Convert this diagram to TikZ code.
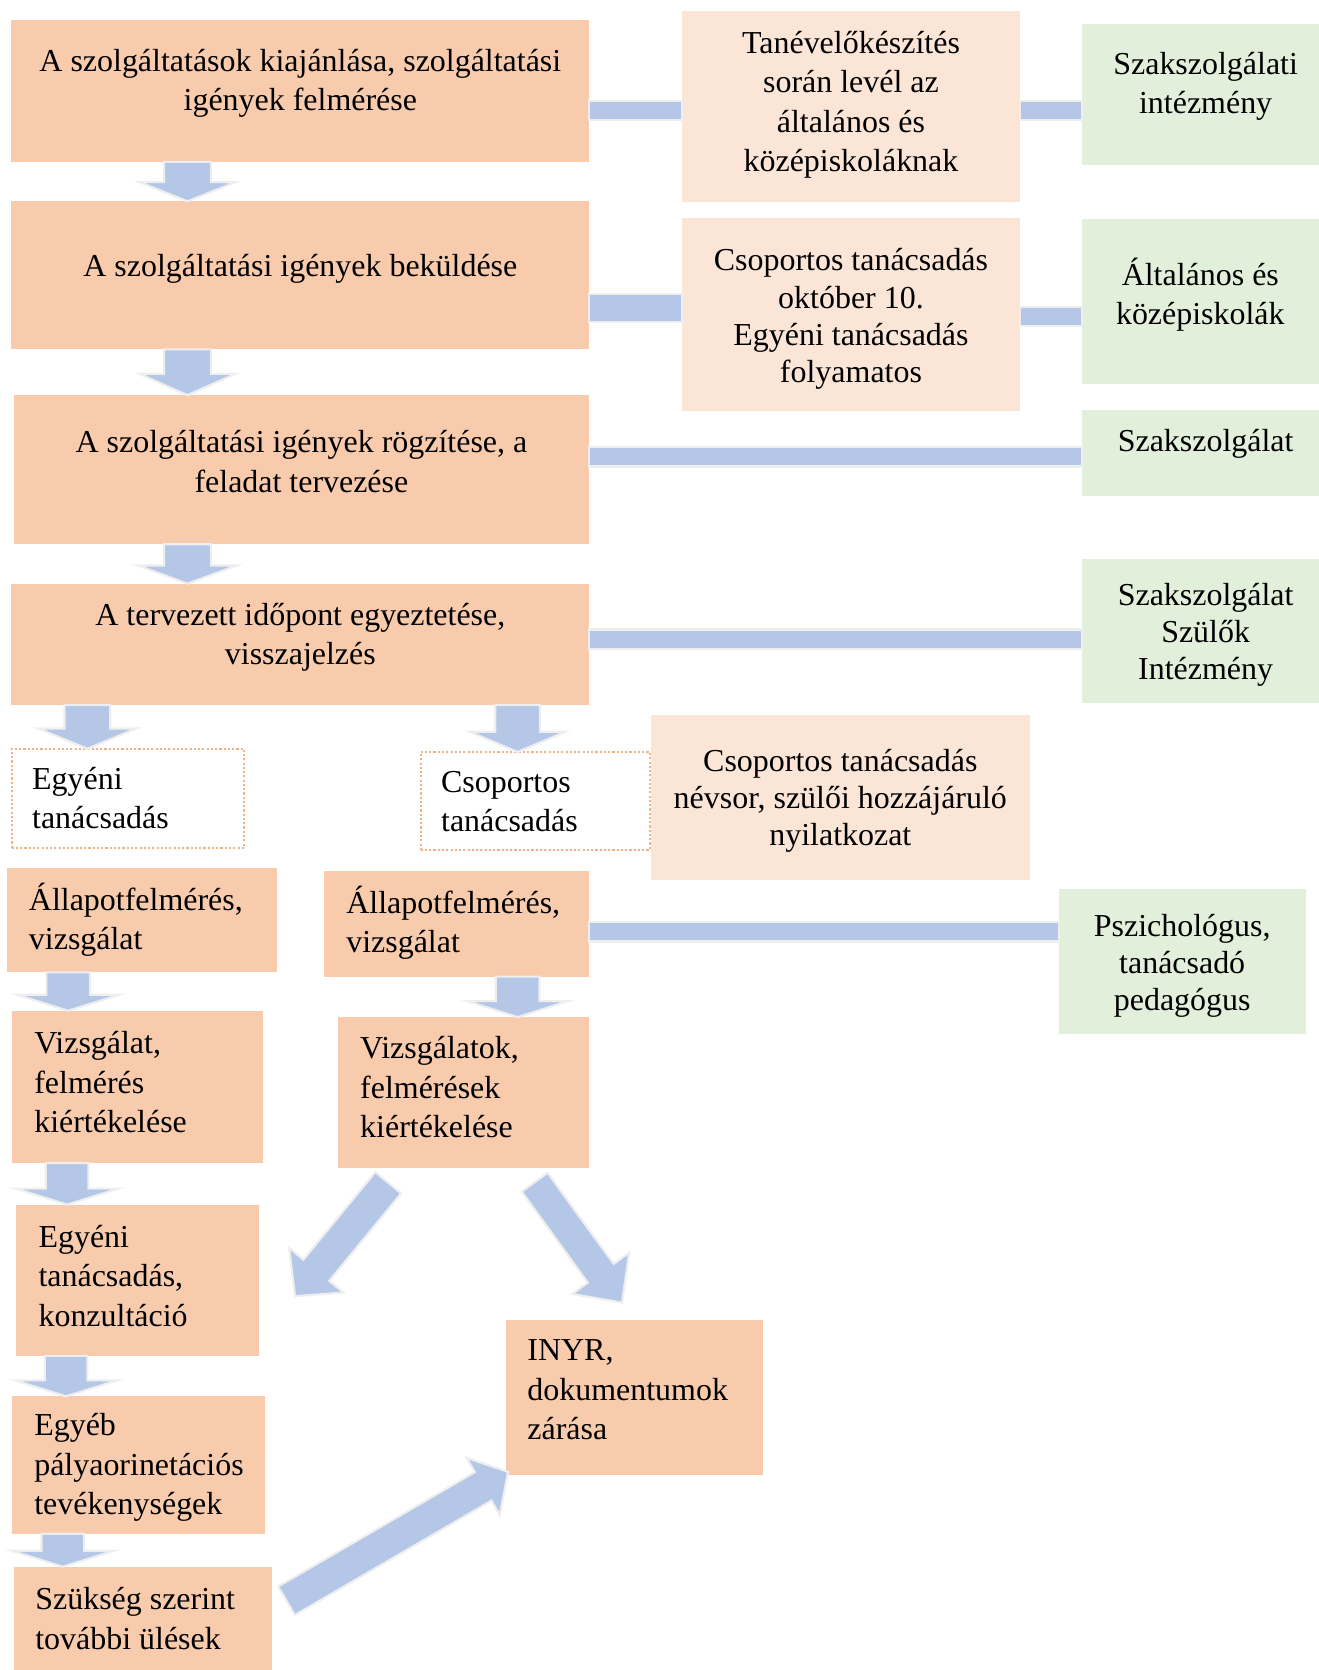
\documentclass[tikz,border=0pt]{standalone}
\usepackage{fontspec}
\setmainfont{Liberation Serif}
\usetikzlibrary{calc}
\definecolor{cOrange}{HTML}{F8CBAD}
\definecolor{cPeach}{HTML}{FBE5D6}
\definecolor{cGreen}{HTML}{E2EFDA}
\definecolor{cBlue}{HTML}{B4C7E7}
\definecolor{cEdge}{HTML}{EEEEEE}
\definecolor{cDot}{HTML}{F4B183}
\tikzset{
  box/.style={rectangle, inner sep=0pt, outer sep=0pt, anchor=north west},
  obox/.style={box, fill=cOrange},
  pbox/.style={box, fill=cPeach},
  gbox/.style={box, fill=cGreen},
  dbox/.style={box, fill=white, draw=cDot, line width=2pt, dash pattern=on 2pt off 2pt},
  ctext/.style={inner sep=0pt, align=center, yshift=-3pt, font=\fontsize{30}{37}\selectfont},
  ctextb/.style={inner sep=0pt, align=center, yshift=-3pt, font=\fontsize{30}{35}\selectfont},
  ltext/.style={inner sep=0pt, align=left, anchor=west, font=\fontsize{30}{37}\selectfont},
  arrowst/.style={fill=cBlue, draw=cEdge, line width=2pt, line join=miter},
  conn/.style={fill=cBlue, draw=cEdge, line width=2pt},
}
\newcommand\blockarrow[5]{%
  \path (#1) coordinate (baS) (#2) coordinate (baE);
  \path ($(baE)!#5!(baS)$) coordinate (baH);
  \filldraw[arrowst] ($(baS)!#3!90:(baE)$) -- ($(baH)!#3!-90:(baS)$) -- ($(baH)!#4!-90:(baS)$) -- (baE)
    -- ($(baH)!#4!90:(baS)$) -- ($(baH)!#3!90:(baS)$) -- ($(baS)!#3!-90:(baE)$) -- cycle;
}
\newcommand\hconn[4]{%
  \path (#1.east |- 0,#3) coordinate (hcA) (#2.west |- 0,#3) coordinate (hcB);
  \filldraw[conn] ($(hcA)+(0,-#4)$) rectangle ($(hcB)+(0,#4)$);
}
\begin{document}
\begin{tikzpicture}[x=1pt,y=-1pt]
\useasboundingbox (0,0) rectangle (1238,1568);
% main column
\node[obox, minimum width=543pt, minimum height=133pt] (A1) at (10,19) {};
\node[obox, minimum width=543pt, minimum height=139pt] (A2) at (10,189) {};
\node[obox, minimum width=540pt, minimum height=140pt] (A3) at (13,371) {};
\node[obox, minimum width=543pt, minimum height=114pt] (A4) at (10,548) {};
% middle column
\node[pbox, minimum width=318pt, minimum height=180pt] (B1) at (640,10) {};
\node[pbox, minimum width=318pt, minimum height=181pt] (B2) at (640,205) {};
\node[pbox, minimum width=356pt, minimum height=155pt] (B3) at (611,671) {};
% right column
\node[gbox, minimum width=222pt, minimum height=132pt] (G1) at (1016,23) {};
\node[gbox, minimum width=222pt, minimum height=155pt] (G2) at (1016,206) {};
\node[gbox, minimum width=222pt, minimum height=81pt] (G3) at (1016,385) {};
\node[gbox, minimum width=222pt, minimum height=135pt] (G4) at (1016,525) {};
\node[gbox, minimum width=232pt, minimum height=136pt] (G5) at (994,835) {};
% dotted
\node[dbox, minimum width=218pt, minimum height=93pt] (D1) at (11,703) {};
\node[dbox, minimum width=215pt, minimum height=92pt] (D2) at (395,706) {};
% lower left column
\node[obox, minimum width=253pt, minimum height=98pt] (L1) at (7,815) {};
\node[obox, minimum width=236pt, minimum height=143pt] (L2) at (11,949) {};
\node[obox, minimum width=228pt, minimum height=142pt] (L3) at (15,1131) {};
\node[obox, minimum width=238pt, minimum height=129pt] (L4) at (11,1311) {};
\node[obox, minimum width=242pt, minimum height=97pt] (L5) at (13,1471) {};
% lower right column
\node[obox, minimum width=249pt, minimum height=99pt] (R1) at (304,818) {};
\node[obox, minimum width=236pt, minimum height=142pt] (R2) at (317,955) {};
\node[obox, minimum width=241pt, minimum height=146pt] (IN) at (475,1239) {};

% texts
\node[ctext] (A1t) at (282,75.5) {A szolgáltatások kiajánlása, szolgáltatási\\igények felmérése};
\node[ctext] (A2t) at (282,249) {A szolgáltatási igények beküldése};
\node[ctext] (A3t) at (283,430.5) {A szolgáltatási igények rögzítése, a\\feladat tervezése};
\node[ctext] (A4t) at (282,595.5) {A tervezett időpont egyeztetése,\\visszajelzés};
\node[ctext] (B1t) at (799,95.5) {Tanévelőkészítés\\során levél az\\általános és\\középiskoláknak};
\node[ctextb] (B2t) at (799,296.5) {Csoportos tanácsadás\\október 10.\\Egyéni tanácsadás\\folyamatos};
\node[ctextb] (B3t) at (789,749) {Csoportos tanácsadás\\névsor, szülői hozzájáruló\\nyilatkozat};
\node[ctext] (G1t) at (1132,78) {Szakszolgálati\\intézmény};
\node[ctext] (G2t) at (1127,273.5) {Általános és\\középiskolák};
\node[ctext] (G3t) at (1132,414) {Szakszolgálat};
\node[ctextb] (G4t) at (1132,593) {Szakszolgálat\\Szülők\\Intézmény};
\node[ctextb] (G5t) at (1110,904) {Pszichológus,\\tanácsadó\\pedagógus};
\node[ltext] (D1t) at (30,749.5) {Egyéni\\tanácsadás};
\node[ltext] (D2t) at (414,752.5) {Csoportos\\tanácsadás};
\node[ltext] (L1t) at (27,863.5) {Állapotfelmérés,\\vizsgálat};
\node[ltext] (L2t) at (32,1016) {Vizsgálat,\\felmérés\\kiértékelése};
\node[ltext] (L3t) at (36,1198) {Egyéni\\tanácsadás,\\konzultáció};
\node[ltext] (L4t) at (32,1378) {Egyéb\\pályaorinetációs\\tevékenységek};
\node[ltext] (L5t) at (33,1519.5) {Szükség szerint\\további ülések};
\node[ltext] (R1t) at (325,866.5) {Állapotfelmérés,\\vizsgálat};
\node[ltext] (R2t) at (338,1021) {Vizsgálatok,\\felmérések\\kiértékelése};
\node[ltext] (INt) at (495,1305) {INYR,\\dokumentumok\\zárása};

% horizontal connectors
\hconn{A1}{B1}{104}{9}
\hconn{B1}{G1}{104}{9}
\hconn{A2}{B2}{289}{13}
\hconn{B2}{G2}{297}{9}
\hconn{A3}{G3}{429}{9}
\hconn{A4}{G4}{600}{9}
\hconn{R1}{G5}{875}{9}

% down arrows
\blockarrow{A1.south -| 176,0}{A2.north -| 176,0}{22pt}{45pt}{18pt}
\blockarrow{A2.south -| 176,0}{A3.north -| 176,0}{22pt}{45pt}{20pt}
\blockarrow{A3.south -| 176,0}{A4.north -| 176,0}{22pt}{46pt}{17pt}
\blockarrow{A4.south -| 82,0}{D1.north -| 82,0}{21.5pt}{46pt}{19pt}
\blockarrow{A4.south -| 486,0}{D2.north -| 486,0}{21pt}{45pt}{19pt}
\blockarrow{L1.south -| 64,0}{L2.north -| 64,0}{20.5pt}{48pt}{15pt}
\blockarrow{R1.south -| 486,922}{R2.north -| 486,0}{20.5pt}{47pt}{15pt}
\blockarrow{L2.south -| 63,1095}{L3.north -| 63,0}{20pt}{48pt}{15pt}
\blockarrow{L3.south -| 62,1276}{L4.north -| 62,0}{20pt}{48pt}{15pt}
\blockarrow{L4.south -| 59,1438}{L5.north -| 59,0}{20pt}{48pt}{15pt}

% diagonal arrows
\coordinate (d1s) at (364.5,1110.5);
\coordinate (d1e) at (277,1217);
\coordinate (d2s) at (502,1110);
\coordinate (d2e) at (584,1223);
\coordinate (d3s) at (269,1503);
\coordinate (d3e) at (477,1382);
\blockarrow{d1s}{d1e}{15.7pt}{33pt}{31.5pt}
\blockarrow{d2s}{d2e}{15pt}{33pt}{34pt}
\blockarrow{d3s}{d3e}{15.5pt}{31pt}{27pt}
\end{tikzpicture}
\end{document}
